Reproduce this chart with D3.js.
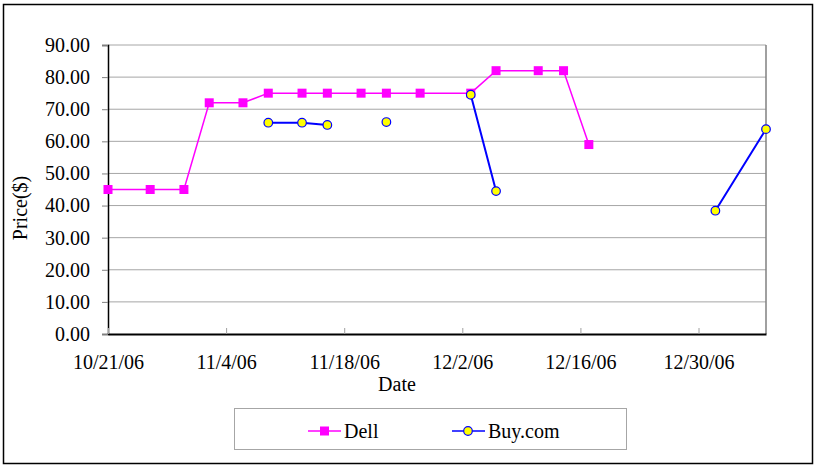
<!DOCTYPE html>
<html>
<head>
<meta charset="utf-8">
<script src="https://cdn.jsdelivr.net/npm/d3@7"></script>
<style>
  body { margin: 0; background: #fff; }
  svg text { font-family: "Liberation Serif", "Tinos", "Times New Roman", Times, "DejaVu Serif", serif !important; fill: #000; }
</style>
</head>
<body>
<div class="wrapper"></div>
<script>
// dates as m/d/yy strings, values in $
const dellDates = ["10/21/06", "10/26/06", "10/30/06", "11/2/06", "11/6/06", "11/9/06", "11/13/06", "11/16/06",
    "11/20/06", "11/23/06", "11/27/06", "12/3/06", "12/6/06", "12/11/06", "12/14/06", "12/17/06"];
const dellPrices = [45, 45, 45, 72, 72, 75, 75, 75, 75, 75, 75, 75, 82, 82, 82, 59];

// null = no price that day (breaks the line)
const buyDates = ["11/9/06", "11/13/06", "11/16/06", "11/20/06", "11/23/06", "11/27/06", "12/3/06", "12/6/06",
    "12/17/06", "1/1/07", "1/7/07"];
const buyPrices = [65.8, 65.8, 65.1, null, 66.0, null, 74.5, 44.5, null, 38.4, 63.8];

const xTickLabels = ["10/21/06", "11/4/06", "11/18/06", "12/2/06", "12/16/06", "12/30/06"];
const yTicks = [0, 10, 20, 30, 40, 50, 60, 70, 80, 90];
const seriesNames = ["Dell", "Buy.com"];

const parse = d3.timeParse("%m/%d/%y");
const W = 814, H = 467;
const margin = {top: 45, right: 48, bottom: 133, left: 108};
const plotW = W - margin.left - margin.right,
    plotH = H - margin.top - margin.bottom;
const fontSize = "20px";

const svg = d3.select(".wrapper").append("svg")
    .attr("width", W)
    .attr("height", H);

// outer chart frame
svg.append("rect")
    .attr("x", 3.5).attr("y", 4.5)
    .attr("width", 809).attr("height", 459)
    .attr("fill", "#fff")
    .attr("stroke", "#000")
    .attr("stroke-width", 1.5);

const g = svg.append("g")
    .attr("transform", "translate(" + margin.left + "," + margin.top + ")");

const x = d3.scaleTime()
    .domain([parse("10/21/06"), parse("1/7/07")])
    .range([0, plotW]);
const y = d3.scaleLinear().domain([0, 90]).range([plotH, 0]);

// gridlines
g.selectAll("line.grid")
    .data(yTicks.slice(1))
    .enter().append("line")
    .attr("class", "grid")
    .attr("x1", 0).attr("x2", plotW)
    .attr("y1", d => y(d)).attr("y2", d => y(d))
    .attr("stroke", "#a6a6a6")
    .attr("stroke-width", 1);

// right border of plot area
g.append("line")
    .attr("x1", plotW).attr("x2", plotW)
    .attr("y1", 0).attr("y2", plotH)
    .attr("stroke", "#808080").attr("stroke-width", 1.5);

// y axis
const yAxis = g.append("g")
    .call(d3.axisLeft(y).tickValues(yTicks).tickFormat(d3.format(".2f")).tickSize(6).tickPadding(12));
yAxis.attr("font-family", null).attr("font-size", null);
yAxis.select(".domain").attr("stroke", "#000").attr("stroke-width", 1.5);
yAxis.selectAll(".tick line").attr("stroke", "#808080");
yAxis.selectAll("text").style("font-size", fontSize);

// x axis
const xAxis = g.append("g")
    .attr("transform", "translate(0," + plotH + ")")
    .call(d3.axisBottom(x)
        .tickValues(xTickLabels.map(parse))
        .tickFormat(d => d3.timeFormat("%-m/%-d/%y")(d))
        .tickSizeInner(-6).tickSizeOuter(0).tickPadding(21));
xAxis.attr("font-family", null).attr("font-size", null);
xAxis.select(".domain").attr("stroke", "#000").attr("stroke-width", 2);
xAxis.selectAll(".tick line").attr("stroke", "#a0a0a0");
xAxis.selectAll("text").style("font-size", fontSize);

// axis titles
svg.append("text")
    .attr("x", 397)
    .attr("y", 391)
    .attr("text-anchor", "middle")
    .style("font-size", fontSize)
    .text("Date");

svg.append("text")
    .attr("transform", "translate(27,208) rotate(-90)")
    .attr("text-anchor", "middle")
    .style("font-size", fontSize)
    .text("Price($)");

// series
const dell = dellDates.map((d, i) => ({date: parse(d), v: dellPrices[i]}));
const buy = buyDates.map((d, i) => ({date: parse(d), v: buyPrices[i]}));

const line = d3.line()
    .defined(d => d.v !== null)
    .x(d => x(d.date))
    .y(d => y(d.v));

g.append("path")
    .datum(dell)
    .attr("fill", "none")
    .attr("stroke", "#ff00ff")
    .attr("stroke-width", 1.5)
    .attr("d", line);

g.selectAll("rect.dell")
    .data(dell)
    .enter().append("rect")
    .attr("class", "dell")
    .attr("x", d => x(d.date) - 4.5)
    .attr("y", d => y(d.v) - 4.5)
    .attr("width", 9).attr("height", 9)
    .attr("fill", "#ff00ff");

g.append("path")
    .datum(buy)
    .attr("fill", "none")
    .attr("stroke", "#0000ff")
    .attr("stroke-width", 2)
    .attr("d", line);

g.selectAll("circle.buy")
    .data(buy.filter(d => d.v !== null))
    .enter().append("circle")
    .attr("class", "buy")
    .attr("cx", d => x(d.date))
    .attr("cy", d => y(d.v))
    .attr("r", 4.3)
    .attr("fill", "#ffff00")
    .attr("stroke", "#0000ff")
    .attr("stroke-width", 1.2);

// legend
const legend = svg.append("g");
legend.append("rect")
    .attr("x", 234.5).attr("y", 408.5)
    .attr("width", 392).attr("height", 41)
    .attr("fill", "#fff")
    .attr("stroke", "#a6a6a6");

const ly = 431;
// Dell entry
legend.append("line")
    .attr("x1", 308).attr("x2", 341).attr("y1", ly).attr("y2", ly)
    .attr("stroke", "#ff00ff").attr("stroke-width", 1.5);
legend.append("rect")
    .attr("x", 320).attr("y", ly - 4.5).attr("width", 9).attr("height", 9)
    .attr("fill", "#ff00ff");
legend.append("text")
    .attr("x", 344).attr("y", ly + 7)
    .style("font-size", fontSize)
    .text(seriesNames[0]);
// Buy.com entry
legend.append("line")
    .attr("x1", 452).attr("x2", 485).attr("y1", ly).attr("y2", ly)
    .attr("stroke", "#0000ff").attr("stroke-width", 1.5);
legend.append("circle")
    .attr("cx", 468).attr("cy", ly).attr("r", 4.3)
    .attr("fill", "#ffff00").attr("stroke", "#0000ff").attr("stroke-width", 1.2);
legend.append("text")
    .attr("x", 488).attr("y", ly + 7)
    .style("font-size", fontSize)
    .text(seriesNames[1]);
</script>
</body>
</html>
